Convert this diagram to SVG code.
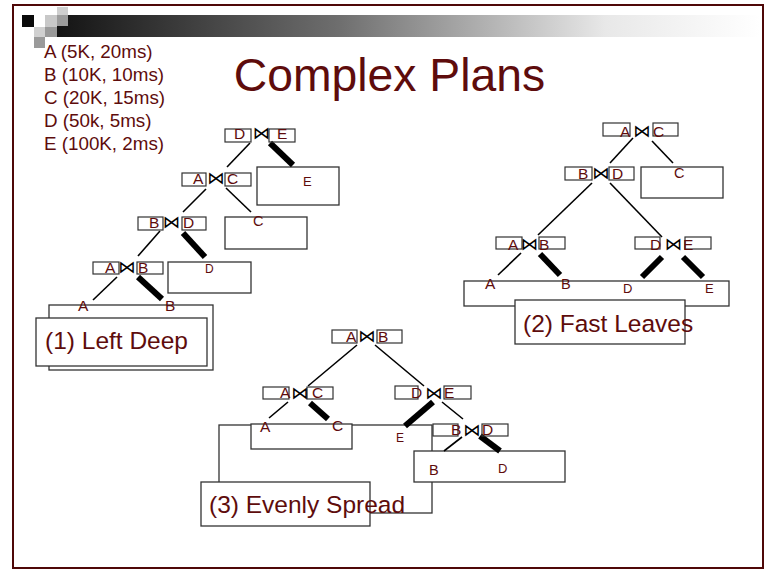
<svg xmlns="http://www.w3.org/2000/svg" width="765" height="569" viewBox="0 0 765 569">
  <defs>
    <linearGradient id="barGrad" x1="0" y1="0" x2="1" y2="0">
      <stop offset="0" stop-color="#141414"/>
      <stop offset="0.4" stop-color="#6e6e6e"/>
      <stop offset="0.78" stop-color="#e8e8e8"/>
      <stop offset="1" stop-color="#ffffff"/>
    </linearGradient>
    <style>
      .txt { font-family: "Liberation Sans", Arial, sans-serif; fill: #5e0c0c; }
      .nr { fill: none; stroke: #333; stroke-width: 1.2; }
      .bx { fill: #fff; stroke: #333; stroke-width: 1.3; }
      .ob { fill: none; stroke: #333; stroke-width: 1.3; }
      .ln { stroke: #000; stroke-width: 1.6; fill: none; }
      .tk { stroke: #000; stroke-width: 6; fill: none; }
      .jn { font-family: "DejaVu Sans", sans-serif; font-size: 17.5px; fill: #000; text-anchor: middle; }
      .lt { font-size: 15.5px; }
    </style>
  </defs>

  <!-- slide frame -->
  <rect x="0" y="0" width="765" height="569" fill="#fff"/>
  <rect x="13" y="5" width="750" height="563" fill="none" stroke="#4f0808" stroke-width="2"/>

  <!-- header bar and pixel squares -->
  <g id="header">
    <rect x="57" y="15" width="703" height="22" fill="url(#barGrad)"/>
    <rect x="22" y="15" width="12" height="12" fill="#0a0a0a"/>
    <rect x="45" y="15" width="12" height="12" fill="#c8c8c8"/>
    <rect x="57" y="7" width="11" height="8" fill="#cfcfcf"/>
    <rect x="57" y="15" width="11" height="11" fill="#9c9c9c"/>
    <rect x="34" y="27" width="11" height="10" fill="#d0d0d0"/>
    <rect x="45" y="27" width="12" height="10" fill="#9a9a9a"/>
    <rect x="34" y="37" width="11" height="11" fill="#9a9a9a"/>
  </g>

  <!-- legend -->
  <g id="legend" class="txt" font-size="18.8">
    <text x="44" y="58">A (5K, 20ms)</text>
    <text x="44" y="81">B (10K, 10ms)</text>
    <text x="44" y="104">C (20K, 15ms)</text>
    <text x="44" y="127">D (50k, 5ms)</text>
    <text x="44" y="150">E (100K, 2ms)</text>
  </g>

  <text id="title" class="txt" x="389.5" y="91" font-size="46.3" text-anchor="middle">Complex Plans</text>

  <!-- ===== plan 1: left deep ===== -->
  <g id="plan1-boxes">
    <rect class="bx" x="257" y="167" width="82" height="38"/>
    <rect class="bx" x="225" y="217" width="82" height="32"/>
    <rect class="bx" x="168" y="262" width="83" height="31"/>
    <rect class="bx" x="49" y="305" width="164" height="65"/>
  </g>
  <g id="connectors-plan1">
    <line class="ln" x1="250" y1="143" x2="227" y2="167"/>
    <line class="tk" x1="270" y1="143" x2="293" y2="165"/>
    <line class="ln" x1="206" y1="189" x2="183" y2="212"/>
    <line class="ln" x1="226" y1="188" x2="251" y2="212"/>
    <line class="ln" x1="160" y1="231" x2="138" y2="256"/>
    <line class="tk" x1="183" y1="233" x2="205" y2="257"/>
    <line class="ln" x1="117" y1="277" x2="93" y2="300"/>
    <line class="tk" x1="138" y1="277" x2="162" y2="299"/>
  </g>
  <g id="p1-DE">
    <rect class="nr" x="225" y="129" width="26" height="13"/>
    <rect class="nr" x="269" y="129" width="26" height="13"/>
    <text class="jn" x="261.5" y="139">⋈</text>
    <text class="txt lt" x="234" y="139">D</text>
    <text class="txt lt" x="277" y="139">E</text>
  </g>
  <g id="p1-AC">
    <rect class="nr" x="182" y="173" width="24" height="13"/>
    <rect class="nr" x="225" y="173" width="26" height="13"/>
    <text class="jn" x="216" y="184">⋈</text>
    <text class="txt lt" x="193" y="184">A</text>
    <text class="txt lt" x="227" y="184">C</text>
  </g>
  <g id="p1-BD">
    <rect class="nr" x="138" y="217" width="25" height="13"/>
    <rect class="nr" x="182" y="217" width="24" height="13"/>
    <text class="jn" x="171.5" y="228">⋈</text>
    <text class="txt lt" x="149" y="228">B</text>
    <text class="txt lt" x="183" y="228">D</text>
  </g>
  <g id="p1-AB">
    <rect class="nr" x="93" y="262" width="26" height="12"/>
    <rect class="nr" x="137" y="262" width="26" height="12"/>
    <text class="jn" x="127" y="273">⋈</text>
    <text class="txt lt" x="105" y="273">A</text>
    <text class="txt lt" x="138" y="273">B</text>
  </g>
  <g id="p1-leaves" class="txt">
    <text x="303" y="186" font-size="13">E</text>
    <text x="253" y="226" font-size="14.5">C</text>
    <text x="205" y="273" font-size="12">D</text>
    <text x="78" y="311" font-size="15.5">A</text>
    <text x="165" y="311" font-size="15.5">B</text>
  </g>
  <g id="p1-caption">
    <rect class="bx" x="36" y="318" width="171" height="48"/>
    <text class="txt" x="45" y="349" font-size="24.5">(1) Left Deep</text>
  </g>

  <!-- ===== plan 2: fast leaves ===== -->
  <g id="plan2-boxes">
    <rect class="bx" x="641" y="167" width="82" height="31"/>
    <rect class="bx" x="464" y="281" width="265" height="25"/>
  </g>
  <g id="connectors-plan2">
    <line class="ln" x1="633" y1="138" x2="610" y2="163"/>
    <line class="ln" x1="652" y1="141" x2="673" y2="163"/>
    <line class="ln" x1="592" y1="183" x2="538" y2="235"/>
    <line class="ln" x1="610" y1="183" x2="662" y2="237"/>
    <line class="ln" x1="521" y1="253" x2="498" y2="275"/>
    <line class="tk" x1="540" y1="254" x2="560" y2="275"/>
    <line class="tk" x1="662" y1="257" x2="642" y2="277"/>
    <line class="tk" x1="683" y1="257" x2="703" y2="277"/>
  </g>
  <g id="p2-AC">
    <rect class="nr" x="603" y="123" width="27" height="13"/>
    <rect class="nr" x="653" y="123" width="25" height="13"/>
    <text class="jn" x="642" y="137">⋈</text>
    <text class="txt lt" x="620" y="137">A</text>
    <text class="txt lt" x="653" y="137">C</text>
  </g>
  <g id="p2-BD">
    <rect class="nr" x="565" y="167" width="27" height="13"/>
    <rect class="nr" x="609" y="167" width="25" height="13"/>
    <text class="jn" x="601" y="179">⋈</text>
    <text class="txt lt" x="578" y="179">B</text>
    <text class="txt lt" x="612" y="179">D</text>
  </g>
  <g id="p2-AB">
    <rect class="nr" x="496" y="237" width="26" height="12"/>
    <rect class="nr" x="539" y="237" width="26" height="12"/>
    <text class="jn" x="529.5" y="250">⋈</text>
    <text class="txt lt" x="508" y="250">A</text>
    <text class="txt lt" x="539" y="250">B</text>
  </g>
  <g id="p2-DE">
    <rect class="nr" x="635" y="237" width="25" height="12"/>
    <rect class="nr" x="685" y="237" width="26" height="12"/>
    <text class="jn" x="673.5" y="250">⋈</text>
    <text class="txt lt" x="650" y="250">D</text>
    <text class="txt lt" x="683" y="250">E</text>
  </g>
  <g id="p2-leaves" class="txt">
    <text x="674" y="178" font-size="14.5">C</text>
    <text x="485" y="289" font-size="15.5">A</text>
    <text x="561" y="289" font-size="14.5">B</text>
    <text x="623" y="293" font-size="13">D</text>
    <text x="705" y="293" font-size="13">E</text>
  </g>
  <g id="p2-caption">
    <rect class="bx" x="515" y="300" width="170" height="44"/>
    <text class="txt" x="523" y="332" font-size="24.5">(2) Fast Leaves</text>
  </g>

  <!-- ===== plan 3: evenly spread ===== -->
  <g id="plan3-boxes">
    <rect class="ob" x="219" y="425" width="213" height="88"/>
    <rect class="bx" x="251" y="424" width="101" height="25"/>
    <rect class="bx" x="414" y="451" width="151" height="31"/>
  </g>
  <g id="connectors-plan3">
    <line class="ln" x1="357" y1="345" x2="308" y2="386"/>
    <line class="ln" x1="375" y1="345" x2="424" y2="386"/>
    <line class="ln" x1="288" y1="402" x2="269" y2="418"/>
    <line class="tk" x1="310" y1="403" x2="328" y2="419"/>
    <line class="tk" x1="433" y1="402" x2="405" y2="426"/>
    <line class="ln" x1="442" y1="402" x2="463" y2="419"/>
    <line class="ln" x1="462" y1="437" x2="444" y2="451"/>
    <line class="tk" x1="480" y1="436" x2="500" y2="451"/>
  </g>
  <g id="p3-AB">
    <rect class="nr" x="332" y="330" width="25" height="13"/>
    <rect class="nr" x="377" y="330" width="25" height="13"/>
    <text class="jn" x="367" y="342">⋈</text>
    <text class="txt lt" x="346" y="342">A</text>
    <text class="txt lt" x="378" y="342">B</text>
  </g>
  <g id="p3-AC">
    <rect class="nr" x="263" y="387" width="26" height="12"/>
    <rect class="nr" x="307" y="387" width="26" height="12"/>
    <text class="jn" x="300" y="399">⋈</text>
    <text class="txt lt" x="280" y="398">A</text>
    <text class="txt lt" x="312" y="398">C</text>
  </g>
  <g id="p3-DE">
    <rect class="nr" x="395" y="386" width="23" height="13"/>
    <rect class="nr" x="444" y="386" width="27" height="13"/>
    <text class="jn" x="434" y="399">⋈</text>
    <text class="txt lt" x="411" y="398">D</text>
    <text class="txt lt" x="444" y="398">E</text>
  </g>
  <g id="p3-BD">
    <rect class="nr" x="433" y="424" width="25" height="12"/>
    <rect class="nr" x="482" y="424" width="26" height="12"/>
    <text class="jn" x="472" y="436">⋈</text>
    <text class="txt lt" x="451" y="435">B</text>
    <text class="txt lt" x="482" y="435">D</text>
  </g>
  <g id="p3-leaves" class="txt">
    <text x="260" y="432" font-size="15.5">A</text>
    <text x="332" y="431" font-size="15.5">C</text>
    <text x="396" y="442" font-size="12">E</text>
    <text x="429" y="475" font-size="14.5">B</text>
    <text x="498" y="473" font-size="13">D</text>
  </g>
  <g id="p3-caption">
    <rect class="bx" x="201" y="482" width="169" height="44"/>
    <text class="txt" x="209" y="513" font-size="24.5">(3) Evenly Spread</text>
  </g>
</svg>
